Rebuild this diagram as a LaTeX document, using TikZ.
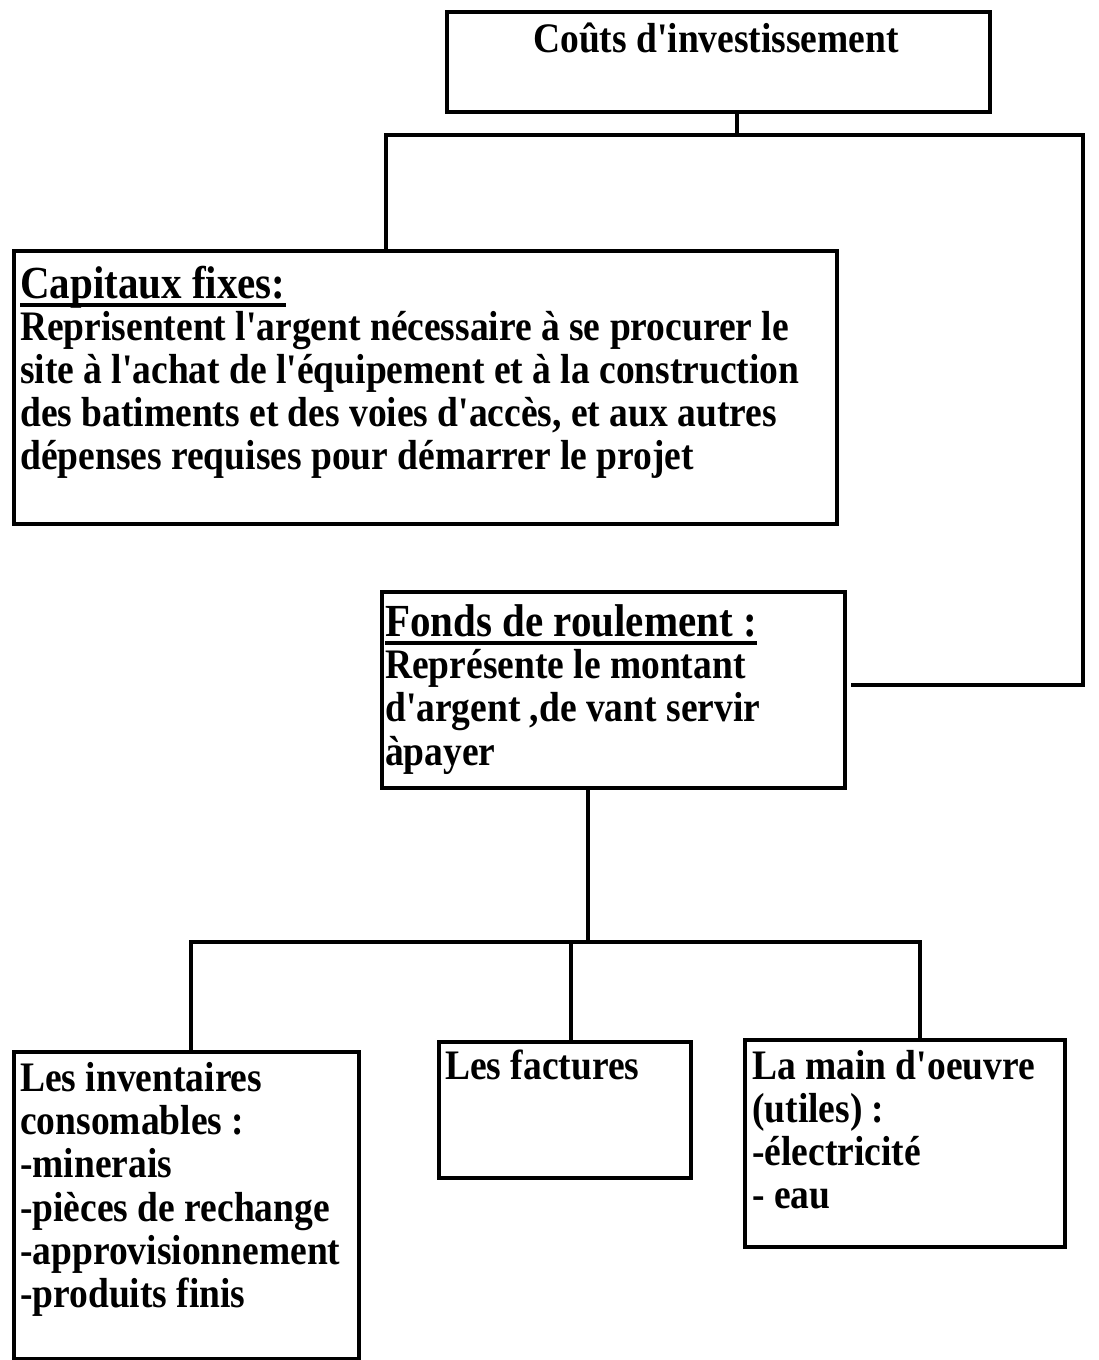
\documentclass[tikz,border=0pt]{standalone}
\usepackage{fontspec}
\setmainfont[Ligatures=TeXOff]{Liberation Serif}
\newcommand{\topstrut}{\rule{0pt}{30pt}}
\begin{document}
\begin{tikzpicture}[x=1pt,y=-1pt,
  frame/.style={draw=black,line width=4pt,rectangle,inner sep=0pt,anchor=north west},
  link/.style={draw=black,line width=4pt},
  txt/.style={inner sep=0pt,transform shape},
  body/.style={txt,anchor=north west,align=left,
    font=\fontsize{37.5}{38.4}\selectfont\bfseries},
  line/.style={txt,anchor=base west,font=\fontsize{37.5}{38.4}\selectfont\bfseries},
  head/.style={txt,anchor=base west,font=\fontsize{41}{47}\selectfont\bfseries},
  tall/.style={yscale=1.12},
  uline/.style={draw=black,line width=3.5pt}]
\useasboundingbox (0,0) rectangle (1099,1360);

% boxes
\node[frame,minimum width=543pt,minimum height=100pt] (top) at (445,10) {};
\node[frame,minimum width=823pt,minimum height=273pt] (cap) at (12,249) {};
\node[frame,minimum width=463pt,minimum height=196pt] (fonds) at (380,590) {};
\node[frame,minimum width=345pt,minimum height=307pt] (inv) at (12,1050) {};
\node[frame,minimum width=252pt,minimum height=136pt] (fact) at (437,1040) {};
\node[frame,minimum width=320pt,minimum height=207pt] (main) at (743,1038) {};

% texts (slightly tall lettering)
\begin{scope}[shift={(716,52)},tall]
  \node[line,anchor=base] (topt) at (0,0) {Coûts d'investissement};
\end{scope}

\begin{scope}[shift={(20,298)},tall]
  \node[head] (caph) at (0,0) {Capitaux fixes:};
\end{scope}
\draw[uline] ([yshift=-7pt]caph.base west) -- ([yshift=-7pt]caph.base east);
\begin{scope}[shift={(20,306.4)},tall]
  \node[body] (capt) at (0,0) {\topstrut Reprisentent l'argent nécessaire à se procurer le\\
site à l'achat de l'équipement et à la construction\\
des batiments et des voies d'accès, et aux autres\\
dépenses requises pour démarrer le projet};
\end{scope}

\begin{scope}[shift={(385,636)},tall]
  \node[head] (fondh) at (0,0) {Fonds de roulement :};
\end{scope}
\draw[uline] ([yshift=-7pt]fondh.base west) -- ([yshift=-7pt]fondh.base east);
\begin{scope}[shift={(385,644.4)},tall]
  \node[body,font=\fontsize{37.5}{38.9}\selectfont\bfseries] (fondt) at (0,0) {\topstrut Représente le montant\\
d'argent ,de vant servir\\
àpayer};
\end{scope}

\begin{scope}[shift={(20,1057.4)},tall]
  \node[body,font=\fontsize{37.5}{38.66}\selectfont\bfseries] (invt) at (0,0) {\topstrut Les inventaires\\
consomables :\\
-minerais\\
-pièces de rechange\\
-approvisionnement\\
-produits finis};
\end{scope}

\begin{scope}[shift={(445,1079)},tall]
  \node[line] (factt) at (0,0) {Les factures};
\end{scope}

\begin{scope}[shift={(752,1045.4)},tall]
  \node[body] (maint) at (0,0) {\topstrut La main d'oeuvre\\
(utiles) :\\
-électricité\\
- eau};
\end{scope}

% junctions
\coordinate (ja) at (737,135);
\coordinate (jl) at (386,135);
\coordinate (jr) at (1083,135);
\coordinate (jrb) at (1083,685);
\coordinate (jre) at (853,685);
\coordinate (jb) at (588,942);
\coordinate (jbl) at (191,942);
\coordinate (jbm) at (571,942);
\coordinate (jbr) at (920,942);

% connectors
\draw[link] (ja |- top.south) -- (ja);
\draw[link,line cap=rect] (jl |- cap.north) -- (jl) -- (jr) -- (jrb) -- (jre);
\draw[link] (jb |- fonds.south) -- (jb);
\draw[link,line cap=rect] (jbl |- inv.north) -- (jbl) -- (jbr) -- (jbr |- main.north);
\draw[link] (jbm) -- (jbm |- fact.north);
\end{tikzpicture}
\end{document}
